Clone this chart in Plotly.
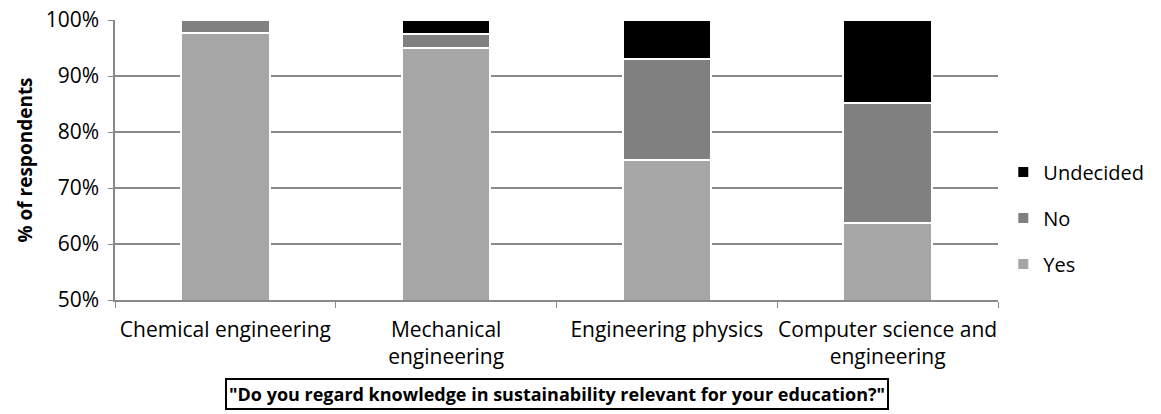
import plotly.graph_objects as go

programmes = ["Chemical engineering", "Mechanical<br>engineering", "Engineering physics",
              "Computer science and<br>engineering"]
yes_share = [0.977, 0.950, 0.750, 0.638]
no_share = [0.023, 0.025, 0.181, 0.213]
undecided_share = [0.000, 0.025, 0.069, 0.149]
y_ticks = [0.5, 0.6, 0.7, 0.8, 0.9, 1.0]

FONT = "Open Sans"
GRID = "#8a8a8a"

fig = go.Figure()
series = [("Yes", yes_share, "#a6a6a6", 3),
          ("No", no_share, "#808080", 2),
          ("Undecided", undecided_share, "#000000", 1)]
for name, vals, col, rank in series:
    fig.add_trace(go.Bar(
        x=programmes, y=vals, name=name, legendgroup=name, legendrank=rank,
        marker=dict(color=col, line=dict(color="white", width=2)),
    ))

fig.update_layout(
    width=1161, height=414,
    margin=dict(l=115, r=154, t=20, b=114),
    barmode="stack", bargap=0.6,
    plot_bgcolor="white", paper_bgcolor="white",
    font=dict(family=FONT, size=20, color="black"),
    showlegend=True,
    legend=dict(x=1.006, y=0.293, yanchor="middle", xanchor="left",
                traceorder="grouped", tracegroupgap=17,
                font=dict(size=20), itemwidth=30),
)
fig.update_yaxes(
    range=[0.5, 1.0], tickvals=y_ticks, tickformat=".0%",
    showgrid=True, gridcolor=GRID, gridwidth=1.5,
    showline=True, linecolor=GRID, linewidth=1.5,
    ticks="outside", ticklen=5, tickcolor=GRID, ticklabelstandoff=5,
    tickfont=dict(size=21), automargin=False,
    title=dict(text="<b>% of respondents</b>", font=dict(size=19), standoff=8),
    zeroline=False,
)
fig.update_xaxes(
    showline=True, linecolor=GRID, linewidth=1.5,
    ticks="outside", ticklen=6, tickcolor=GRID, tickson="boundaries",
    tickfont=dict(size=21), ticklabelstandoff=10, tickangle=0, automargin=False,
)
fig.add_annotation(
    x=0.5, y=-0.279, xref="paper", yref="paper", yanchor="top",
    text="<b>\"Do you regard knowledge in sustainability relevant for your education?\"</b>",
    showarrow=False, font=dict(size=18, family=FONT),
    bordercolor="black", borderwidth=2, borderpad=2, bgcolor="white",
)

fig.write_html("out.html")
